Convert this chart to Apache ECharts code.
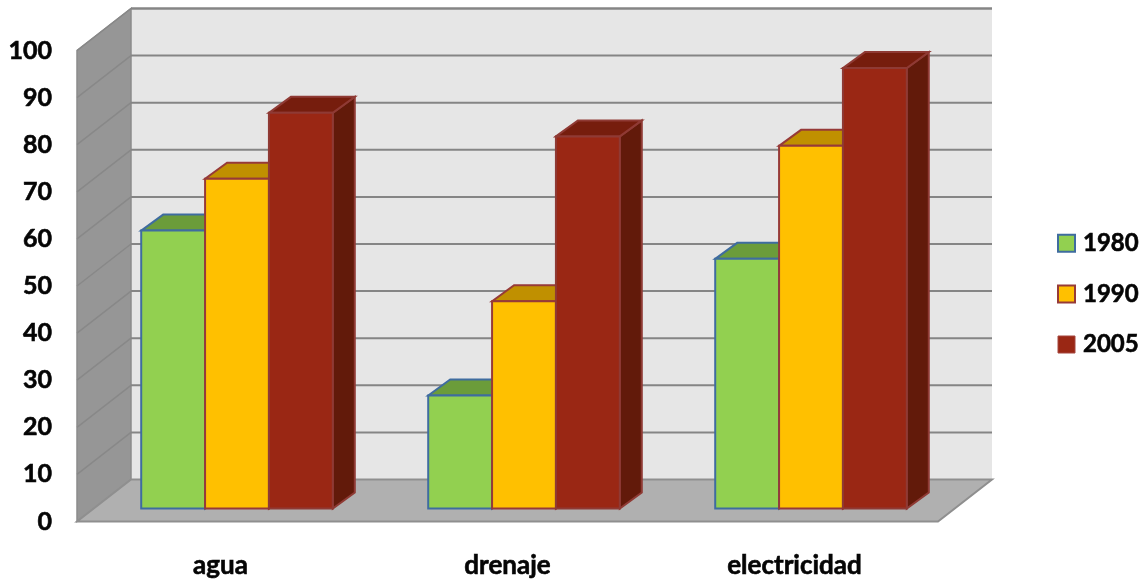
<!DOCTYPE html>
<html>
<head>
<meta charset="utf-8">
<style>html,body{margin:0;padding:0;background:#fff}#chart{width:1147px;height:581px}</style>
<script src="https://cdn.jsdelivr.net/npm/echarts@6/dist/echarts.min.js"></script>
</head>
<body>
<div id="chart"></div>
<script>
// Household services coverage by year
var categories = ['agua', 'drenaje', 'electricidad'];
var years = ['1980', '1990', '2005'];
var values1980 = [59, 24, 53];
var values1990 = [70, 44, 77];
var values2005 = [84, 79, 93.5];
var yTicks = [0, 10, 20, 30, 40, 50, 60, 70, 80, 90, 100];

// Oblique projection: how far the back wall and the bars sit behind the front plane
var WALL = { dx: 54, dy: -42 };
var BAR_FRONT = { dx: 16.5, dy: -13 };
var BAR_DEPTH = { dx: 22, dy: -16 };
var BAR_SHARE = 0.2225;

var FONT = 'Lato, "Open Sans", sans-serif';
var TEXT = '#050505';

function poly(points, fill, stroke, width) {
  return {
    type: 'polygon',
    shape: { points: points },
    style: { fill: fill, stroke: stroke || null, lineWidth: width || 0, lineJoin: 'miter' }
  };
}
function seg(x1, y1, x2, y2, stroke, width) {
  return {
    type: 'line',
    shape: { x1: x1, y1: y1, x2: x2, y2: y2 },
    style: { stroke: stroke, lineWidth: width, fill: null }
  };
}

// Side wall, back wall and floor of the box
function renderBox(params, api) {
  var c = params.coordSys;
  var l = c.x, r = c.x + c.width, t = c.y, b = c.y + c.height;
  var dx = WALL.dx, dy = WALL.dy;
  return {
    type: 'group',
    children: [
      poly([[l + dx, t + dy], [r + dx, t + dy], [r + dx, b + dy], [l + dx, b + dy]], '#e6e6e6'),
      seg(l + dx, t + dy, r + dx, t + dy, '#858585', 2),
      poly([[l, t], [l + dx, t + dy], [l + dx, b + dy], [l, b]], '#969696', '#8c8c8c', 1.5),
      poly([[l, b], [l + dx, b + dy], [r + dx, b + dy], [r, b]], '#b0b0b0', '#8f8f8f', 2)
    ]
  };
}

// One gridline: across the side wall, then across the back wall
function renderGrid(params, api) {
  var c = params.coordSys;
  var y = api.coord([0, api.value(1)])[1];
  var l = c.x, r = c.x + c.width;
  var isFloor = api.value(1) === 0;
  var kids = [];
  if (!isFloor) {
    kids.push(seg(l, y, l + WALL.dx, y + WALL.dy, '#888888', 1.5));
    kids.push(seg(l + WALL.dx, y + WALL.dy, r + WALL.dx, y + WALL.dy, '#858585', 2));
  }
  return { type: 'group', children: kids };
}

// A bar drawn as front, top and side faces
function barRenderer(seriesIndex, face, top, side, edge) {
  return function (params, api) {
    var band = api.size([1, 0])[0];
    var w = band * BAR_SHARE;
    var p = api.coord([api.value(0), api.value(1)]);
    var base = api.coord([api.value(0), 0]);
    var x = p[0] + BAR_FRONT.dx + (seriesIndex - 1.5) * w;
    var yt = p[1] + BAR_FRONT.dy;
    var yb = base[1] + BAR_FRONT.dy;
    var ddx = BAR_DEPTH.dx, ddy = BAR_DEPTH.dy;
    return {
      type: 'group',
      children: [
        poly([[x + w, yt], [x + w + ddx, yt + ddy], [x + w + ddx, yb + ddy], [x + w, yb]], side, edge, 2),
        poly([[x, yt], [x + ddx, yt + ddy], [x + w + ddx, yt + ddy], [x + w, yt]], top, edge, 2),
        poly([[x, yt], [x + w, yt], [x + w, yb], [x, yb]], face, edge, 2)
      ]
    };
  };
}

function barData(values) {
  return values.map(function (v, i) { return [i, v]; });
}

function barSeries(name, values, index, face, top, side, edge) {
  return {
    type: 'custom',
    name: name,
    coordinateSystem: 'cartesian2d',
    renderItem: barRenderer(index, face, top, side, edge),
    data: barData(values),
    encode: { x: 0, y: 1 },
    itemStyle: { color: face, borderColor: edge, borderWidth: 2 },
    silent: true
  };
}

// Shared heavy label text: a hairline outline thickens the bold weight
function labelText(size) {
  return {
    color: TEXT,
    fontFamily: FONT,
    fontWeight: 'bold',
    fontSize: size,
    textBorderColor: TEXT,
    textBorderWidth: 0.6
  };
}

var chart = echarts.init(document.getElementById('chart'), null, { renderer: 'canvas' });
chart.setOption({
  animation: false,
  backgroundColor: '#ffffff',
  grid: { left: 77, right: 209, top: 50.5, bottom: 59.5, containLabel: false },
  xAxis: {
    type: 'category',
    data: categories,
    axisLine: { show: false },
    axisTick: { show: false },
    axisLabel: Object.assign(labelText(26), { margin: 31 })
  },
  yAxis: {
    type: 'value',
    min: 0,
    max: 100,
    interval: 10,
    axisLine: { show: false },
    axisTick: { show: false },
    splitLine: { show: false },
    axisLabel: Object.assign(labelText(25), { margin: 25, padding: [8, 0, 0, 0] })
  },
  legend: {
    orient: 'vertical',
    left: 1057,
    top: 231,
    padding: 0,
    itemWidth: 17,
    itemHeight: 17,
    itemGap: 26,
    icon: 'rect',
    selectedMode: false,
    textStyle: Object.assign(labelText(24), { padding: [0, 0, 0, 3] }),
    data: [
      { name: years[0], itemStyle: { color: '#92d050', borderColor: '#3f6c9f', borderWidth: 2 } },
      { name: years[1], itemStyle: { color: '#ffc000', borderColor: '#963a38', borderWidth: 2 } },
      { name: years[2], itemStyle: { color: '#9a2714', borderColor: '#a5463f', borderWidth: 1 } }
    ]
  },
  series: [
    {
      type: 'custom',
      coordinateSystem: 'cartesian2d',
      renderItem: renderBox,
      data: [[0, 0]],
      encode: { x: 0, y: 1 },
      silent: true
    },
    {
      type: 'custom',
      coordinateSystem: 'cartesian2d',
      renderItem: renderGrid,
      data: yTicks.map(function (v) { return [0, v]; }),
      encode: { x: 0, y: 1 },
      silent: true
    },
    barSeries(years[0], values1980, 0, '#92d050', '#6b9c3a', '#4f7a2a', '#3f6c9f'),
    barSeries(years[1], values1990, 1, '#ffc000', '#c09000', '#8a6800', '#963a38'),
    barSeries(years[2], values2005, 2, '#9a2714', '#761d0d', '#621a0a', '#8f3a34')
  ]
});
</script>
</body>
</html>
